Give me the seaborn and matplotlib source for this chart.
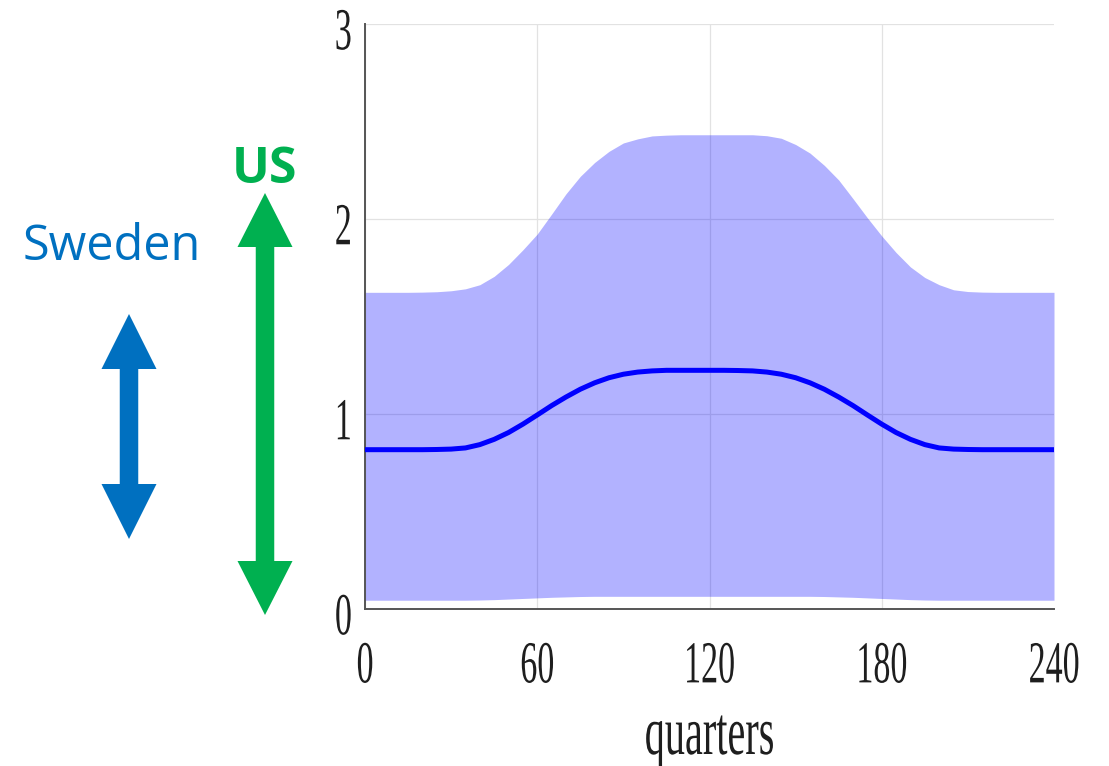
import matplotlib
matplotlib.use("Agg")
import matplotlib.pyplot as plt
import seaborn as sns
import pandas as pd
from matplotlib.patheffects import AbstractPathEffect
from matplotlib.transforms import Affine2D
from matplotlib.patches import Polygon

# ---------------- data ----------------
quarters = [0, 5, 10, 15, 20, 25, 30, 35, 40, 45, 50, 55, 60, 65, 70, 75, 80, 85,
            90, 95, 100, 105, 110, 115, 120, 125, 130, 135, 140, 145, 150, 155,
            160, 165, 170, 175, 180, 185, 190, 195, 200, 205, 210, 215, 220, 225,
            230, 235, 240]
mean_path = [0.817, 0.817, 0.817, 0.817, 0.817, 0.818, 0.820, 0.826, 0.843, 0.870,
             0.905, 0.948, 0.995, 1.043, 1.087, 1.127, 1.160, 1.186, 1.204, 1.215,
             1.221, 1.224, 1.224, 1.224, 1.224, 1.224, 1.223, 1.221, 1.215, 1.204,
             1.186, 1.160, 1.127, 1.087, 1.043, 0.995, 0.948, 0.905, 0.870, 0.843,
             0.826, 0.820, 0.818, 0.817, 0.817, 0.817, 0.817, 0.817, 0.817]
upper_band = [1.624, 1.624, 1.624, 1.624, 1.625, 1.627, 1.632, 1.642, 1.663, 1.706,
              1.767, 1.842, 1.923, 2.025, 2.129, 2.219, 2.290, 2.347, 2.390, 2.411,
              2.426, 2.430, 2.432, 2.432, 2.432, 2.432, 2.432, 2.432, 2.427, 2.414,
              2.382, 2.338, 2.275, 2.200, 2.104, 2.006, 1.913, 1.828, 1.754, 1.700,
              1.663, 1.637, 1.628, 1.625, 1.624, 1.624, 1.624, 1.624, 1.624]
lower_band = [0.045, 0.045, 0.045, 0.045, 0.045, 0.045, 0.045, 0.045, 0.046, 0.048,
              0.051, 0.054, 0.057, 0.060, 0.062, 0.064, 0.065, 0.065, 0.065, 0.065,
              0.065, 0.065, 0.065, 0.065, 0.065, 0.065, 0.065, 0.065, 0.065, 0.065,
              0.065, 0.065, 0.064, 0.062, 0.060, 0.057, 0.054, 0.051, 0.048, 0.046,
              0.045, 0.045, 0.045, 0.045, 0.045, 0.045, 0.045, 0.045, 0.045]
x_ticks = [0, 60, 120, 180, 240]
y_ticks = [0, 1, 2, 3]
x_label = "quarters"
label_sweden = "Sweden"
label_us = "US"

df = pd.DataFrame({"quarters": quarters, "mean": mean_path,
                   "upper": upper_band, "lower": lower_band})


# vertical stretch of glyphs (reference text is tall / condensed)
class StretchY(AbstractPathEffect):
    def __init__(self, sy, cy=0.0):
        super().__init__()
        self.sy = sy
        self.cy = cy

    def draw_path(self, renderer, gc, tpath, affine, rgbFace=None):
        t = Affine2D().translate(0, -self.cy).scale(1, self.sy).translate(0, self.cy)
        renderer.draw_path(gc, tpath, t + affine, rgbFace)


sns.set_theme(style="white")
plt.rcParams["font.family"] = ["Liberation Serif", "DejaVu Serif"]

W, H = 1109, 766
fig = plt.figure(figsize=(W / 100, H / 100), dpi=100)
ax = fig.add_axes([365 / W, 1 - 609 / H, (1054 - 365) / W, (609 - 24) / H])

ax.fill_between(df["quarters"], df["lower"], df["upper"], color="blue",
                alpha=0.3, linewidth=0, zorder=2)
sns.lineplot(data=df, x="quarters", y="mean", ax=ax, color="blue",
             linewidth=3.6, zorder=3)

ax.set_xlim(0, 240)
ax.set_ylim(0, 3)
ax.set_xticks(x_ticks)
ax.set_yticks(y_ticks)
ax.set_xticklabels([str(v) for v in x_ticks])
ax.set_yticklabels([str(v) for v in y_ticks])
ax.set_ylabel("")

ax.grid(True, color="#e2e2e2", linewidth=0.9, zorder=0)
ax.set_axisbelow(True)
ax.xaxis.get_gridlines()[-1].set_visible(False)

for s in ["top", "right"]:
    ax.spines[s].set_visible(False)
for s in ["left", "bottom"]:
    ax.spines[s].set_color("#555555")
    ax.spines[s].set_linewidth(1.4)

ax.tick_params(axis="both", direction="in", length=5, width=1, color="#555555",
               labelsize=24.5, labelcolor="#1e1e1e")
ax.tick_params(axis="x", pad=29.7)
ax.tick_params(axis="y", pad=9.5)

for lab in ax.get_xticklabels():
    lab.set_path_effects([StretchY(1.75, 33.8)])
for lab in ax.get_yticklabels():
    lab.set_path_effects([StretchY(1.75, 53)])

ax.set_xlabel(x_label, fontsize=29, color="#1e1e1e")
ax.xaxis.set_label_coords(0.5, -0.2)
ax.xaxis.label.set_path_effects([StretchY(1.7, 0)])

# ---------------- overlay: labels and arrows (pixel coordinates) ----------------
ov = fig.add_axes([0, 0, 1, 1])
ov.set_xlim(0, W)
ov.set_ylim(H, 0)
ov.axis("off")


def double_arrow(xc, ytop, ybot, shaft, head_w, head_l, color):
    pts = [(xc, ytop), (xc + head_w / 2, ytop + head_l), (xc + shaft / 2, ytop + head_l),
           (xc + shaft / 2, ybot - head_l), (xc + head_w / 2, ybot - head_l),
           (xc, ybot), (xc - head_w / 2, ybot - head_l), (xc - shaft / 2, ybot - head_l),
           (xc - shaft / 2, ytop + head_l), (xc - head_w / 2, ytop + head_l)]
    ov.add_patch(Polygon(pts, closed=True, facecolor=color, edgecolor="none"))


double_arrow(129, 314, 539, 18.5, 55, 55, "#0070C0")
double_arrow(265, 193, 615, 18.5, 55, 54, "#00B050")

ov.text(112, 247, label_sweden, color="#0070C0", fontsize=35,
        family=["Open Sans", "DejaVu Sans"], ha="center", va="center")
ov.text(265, 170, label_us, color="#00B050", fontsize=36, fontweight="bold",
        family=["Open Sans", "DejaVu Sans"], ha="center", va="center")

fig.savefig("out.png", dpi=100)
